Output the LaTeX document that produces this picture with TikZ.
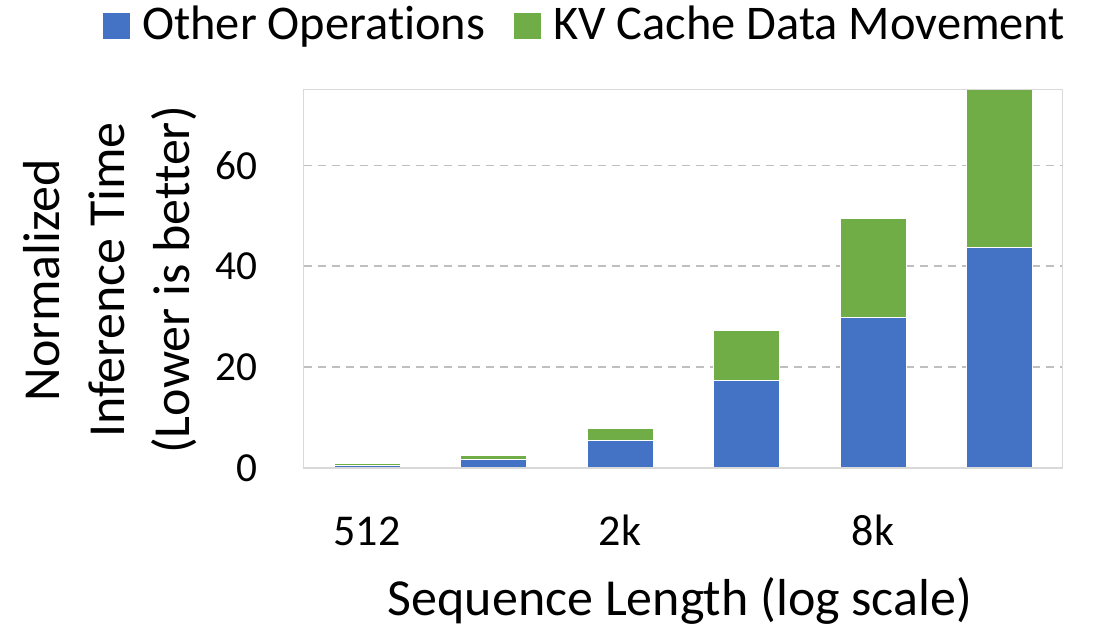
\documentclass[tikz,border=0pt]{standalone}
\usepackage{fontspec}
\setmainfont{Carlito}[Ligatures=NoCommon]
\definecolor{opsblue}{HTML}{4472C4}
\definecolor{kvgreen}{HTML}{70AD47}
\definecolor{framegray}{HTML}{D9D9D9}
\definecolor{gridgray}{HTML}{BFBFBF}
\begin{document}
\begin{tikzpicture}[x=0.75pt,y=-0.75pt,
  legtext/.style={font=\fontsize{36.3}{43}\selectfont, inner sep=0pt, anchor=base west},
  ytick/.style={font=\fontsize{31}{37}\selectfont, inner sep=0pt, anchor=east},
  xtick/.style={font=\fontsize{33}{40}\selectfont, inner sep=0pt, anchor=base},
  axtitle/.style={font=\fontsize{39}{47}\selectfont, inner sep=0pt, anchor=base},
  gridline/.style={draw=gridgray, line width=1.1pt, dash pattern=on 6pt off 4.5pt},
  plotframe/.style={draw=framegray, line width=1.1pt},
  opsbar/.style={fill=opsblue, draw=white, line width=0.4pt},
  kvbar/.style={fill=kvgreen, draw=white, line width=0.4pt}]
  \path[use as bounding box] (0,0) rectangle (1094,629);

  % value v sits at y = 468 - 5.045 v
  % dashed horizontal grid
  \foreach \v in {20,40,60}{
    \draw[gridline] (303.5,{468-5.045*\v}) -- (1062.7,{468-5.045*\v});
  }

  % stacked bars: centre / other operations / total
  \foreach \c/\b/\t in {367/0.6/1.0, 493.5/1.78/2.58, 620/5.49/7.87,
                        746.5/17.3/27.3, 873/29.8/49.6, 999/43.8/75}{
    \filldraw[opsbar] (\c-33,468) rectangle (\c+33,{468-5.045*\b});
    \filldraw[kvbar] (\c-33,{468-5.045*\b}) rectangle (\c+33,{468-5.045*\t});
  }

  % plot area border
  \draw[plotframe] (303.5,89.3) rectangle (1062.7,468);

  % y tick labels
  \node[ytick] (y0)  at (258,468)   {0};
  \node[ytick] (y20) at (258,367.1) {20};
  \node[ytick] (y40) at (258,266.2) {40};
  \node[ytick] (y60) at (258,165.3) {60};

  % x tick labels
  \node[xtick] (x512) at (367,545) {512};
  \node[xtick] (x2k)  at (620,545) {2k};
  \node[xtick] (x8k)  at (873,545) {8k};

  % axis titles
  \node[axtitle] (xtitle) at (680,615) {Sequence Length (log scale)};
  \node[axtitle, rotate=90] (ytitle1) at (59,280)  {Normalized};
  \node[axtitle, rotate=90] (ytitle2) at (124,280) {Inference Time};
  \node[axtitle, rotate=90] (ytitle3) at (189,280) {(Lower is better)};

  % legend
  \fill[opsblue] (103,13) rectangle (130,39);
  \node[legtext] (legops) at (142,39) {Other Operations};
  \fill[kvgreen] (514,13) rectangle (541,39);
  \node[legtext] (legkv) at (553,39) {KV Cache Data Movement};
\end{tikzpicture}
\end{document}
